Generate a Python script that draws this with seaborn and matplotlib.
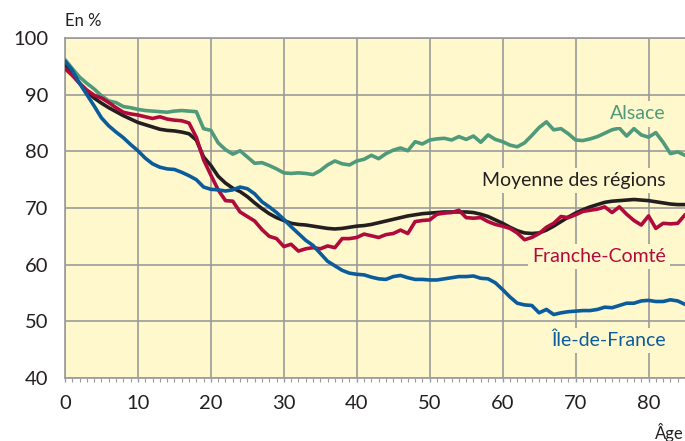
import numpy as np
import pandas as pd
import matplotlib
matplotlib.use("Agg")
import matplotlib.pyplot as plt
import seaborn as sns
from matplotlib.ticker import MultipleLocator

ages = list(range(0, 86))

alsace = [96.2, 94.6, 93.1, 92.0, 91.0, 89.8, 88.9, 88.6, 87.9, 87.7,
          87.4, 87.2, 87.1, 87.0, 86.9, 87.1, 87.2, 87.1, 87.0, 84.0,
          83.7, 81.5, 80.3, 79.5, 80.1, 79.0, 77.9, 78.0, 77.5, 76.9,
          76.2, 76.1, 76.2, 76.1, 75.9, 76.6, 77.6, 78.3, 77.8, 77.6,
          78.3, 78.6, 79.3, 78.7, 79.6, 80.2, 80.6, 80.1, 81.7, 81.3,
          82.0, 82.2, 82.3, 82.0, 82.6, 82.1, 82.7, 81.6, 82.9, 82.1,
          81.7, 81.1, 80.8, 81.5, 82.8, 84.2, 85.2, 83.8, 84.0, 83.1,
          82.0, 81.9, 82.2, 82.6, 83.2, 83.8, 84.1, 82.7, 84.0, 82.9,
          82.5, 83.3, 81.6, 79.6, 79.9, 79.3]

moyenne = [95.3, 93.6, 92.0, 90.6, 89.4, 88.5, 87.7, 87.0, 86.3, 85.7,
           85.1, 84.7, 84.3, 83.9, 83.7, 83.6, 83.4, 83.1, 82.0, 79.0,
           77.5, 75.6, 74.4, 73.5, 72.9, 72.0, 70.9, 69.9, 69.0, 68.3,
           67.8, 67.3, 67.1, 67.0, 66.8, 66.6, 66.4, 66.3, 66.4, 66.6,
           66.8, 66.9, 67.1, 67.4, 67.7, 68.0, 68.3, 68.6, 68.8, 69.0,
           69.1, 69.2, 69.3, 69.3, 69.3, 69.3, 69.2, 68.9, 68.5, 67.9,
           67.3, 66.6, 66.0, 65.6, 65.5, 65.6, 66.1, 66.8, 67.6, 68.4,
           69.1, 69.7, 70.2, 70.6, 71.0, 71.2, 71.3, 71.4, 71.5, 71.4,
           71.3, 71.1, 70.9, 70.7, 70.6, 70.6]

franche_comte = [94.6, 93.4, 92.0, 90.8, 89.9, 89.4, 88.6, 87.7, 86.9, 86.6,
                 86.4, 86.1, 85.8, 86.1, 85.7, 85.5, 85.4, 85.0, 82.5, 78.5,
                 75.8, 73.2, 71.3, 71.2, 69.3, 68.5, 67.7, 66.2, 65.0, 64.6,
                 63.2, 63.6, 62.4, 62.8, 63.0, 62.8, 63.3, 63.0, 64.6, 64.6,
                 64.8, 65.4, 65.1, 64.8, 65.3, 65.5, 66.1, 65.5, 67.6, 67.8,
                 67.9, 68.9, 69.1, 69.2, 69.6, 68.3, 68.2, 68.3, 67.6, 67.1,
                 66.8, 66.4, 65.6, 64.4, 64.8, 65.5, 66.6, 67.3, 68.5, 68.3,
                 68.8, 69.4, 69.6, 69.8, 70.2, 69.2, 70.2, 68.9, 67.8, 67.0,
                 68.6, 66.4, 67.3, 67.2, 67.3, 68.8]

ile_de_france = [95.9, 94.3, 92.0, 90.0, 88.0, 85.9, 84.5, 83.4, 82.4, 81.2,
                 80.1, 78.8, 77.8, 77.2, 76.9, 76.8, 76.3, 75.7, 75.0, 73.7,
                 73.3, 73.2, 73.0, 73.2, 73.7, 73.4, 72.5, 71.1, 70.2, 69.2,
                 68.0, 66.7, 65.5, 64.3, 63.4, 62.0, 60.6, 59.8, 59.0, 58.5,
                 58.3, 58.2, 57.8, 57.5, 57.4, 57.9, 58.1, 57.7, 57.4, 57.4,
                 57.3, 57.3, 57.5, 57.7, 57.9, 57.9, 58.0, 57.6, 57.5, 56.8,
                 55.6, 54.3, 53.2, 52.9, 52.8, 51.5, 52.1, 51.2, 51.5, 51.7,
                 51.8, 51.9, 51.9, 52.1, 52.5, 52.4, 52.8, 53.2, 53.2, 53.6,
                 53.7, 53.5, 53.5, 53.8, 53.6, 53.0]

series_names = ["Moyenne des régions", "Alsace", "Franche-Comté", "Île-de-France"]
series_values = [moyenne, alsace, franche_comte, ile_de_france]
colors = {"Moyenne des régions": "#231f20",
          "Alsace": "#4e9a7a",
          "Franche-Comté": "#b00a3c",
          "Île-de-France": "#0b5c9c"}

y_ticks = [40, 50, 60, 70, 80, 90, 100]
x_ticks = [0, 10, 20, 30, 40, 50, 60, 70, 80]

df = pd.concat([pd.DataFrame({"age": ages, "val": v, "serie": n})
                for n, v in zip(series_names, series_values)], ignore_index=True)

sns.set_theme(style="white")
plt.rcParams["font.family"] = ["Lato", "DejaVu Sans"]

bg = "#fff8cc"
grid_c = "#9a9a9a"
fig = plt.figure(figsize=(6.85, 4.41), dpi=100)
ax = fig.add_axes([65 / 685, 1 - 378 / 441, 620 / 685, 340 / 441])
ax.set_facecolor(bg)

sns.lineplot(data=df, x="age", y="val", hue="serie", hue_order=series_names,
             palette=colors, linewidth=2.6, legend=False, ax=ax, zorder=3)

ax.set_xlim(0, 85)
ax.set_ylim(40, 100)
ax.set_xticks(x_ticks)
ax.set_yticks(y_ticks)
ax.xaxis.set_minor_locator(MultipleLocator(1))
ax.grid(True, which="major", color=grid_c, linewidth=1.2, zorder=1)
ax.set_axisbelow(True)
for s in ["left", "bottom", "top"]:
    ax.spines[s].set_color(grid_c)
    ax.spines[s].set_linewidth(1.2)
ax.spines["right"].set_visible(False)
ax.tick_params(axis="y", length=0, pad=12, labelsize=14.5, labelcolor="#231f20")
ax.tick_params(axis="x", which="major", length=3, width=1, color=grid_c,
               direction="out", pad=9, labelsize=14.5, labelcolor="#231f20", bottom=True)
ax.tick_params(axis="x", which="minor", length=3, width=0.8, color=grid_c,
               direction="out", bottom=True)
ax.set_xlabel("")
ax.set_ylabel("")

box = dict(facecolor=bg, edgecolor="none", pad=3)
lab_x = 82.4
ax.text(lab_x, 86.6, "Alsace", color=colors["Alsace"], fontsize=14,
        ha="right", va="center", bbox=box, zorder=4)
ax.text(lab_x, 74.9, "Moyenne des régions", color=colors["Moyenne des régions"],
        fontsize=14, ha="right", va="center", bbox=box, zorder=4)
ax.text(lab_x, 61.5, "Franche-Comté", color=colors["Franche-Comté"], fontsize=14,
        ha="right", va="center", bbox=box, zorder=4)
ax.text(lab_x, 46.6, "Île-de-France", color=colors["Île-de-France"], fontsize=14,
        ha="right", va="center", bbox=box, zorder=4)

fig.text(65 / 685, 1 - 21 / 441, "En %", fontsize=12, color="#231f20",
         ha="left", va="center")
fig.text(684 / 685, 1 - 432 / 441, "Âge", fontsize=12, color="#231f20",
         ha="right", va="center")

fig.savefig("out.png", dpi=100, facecolor="white")
